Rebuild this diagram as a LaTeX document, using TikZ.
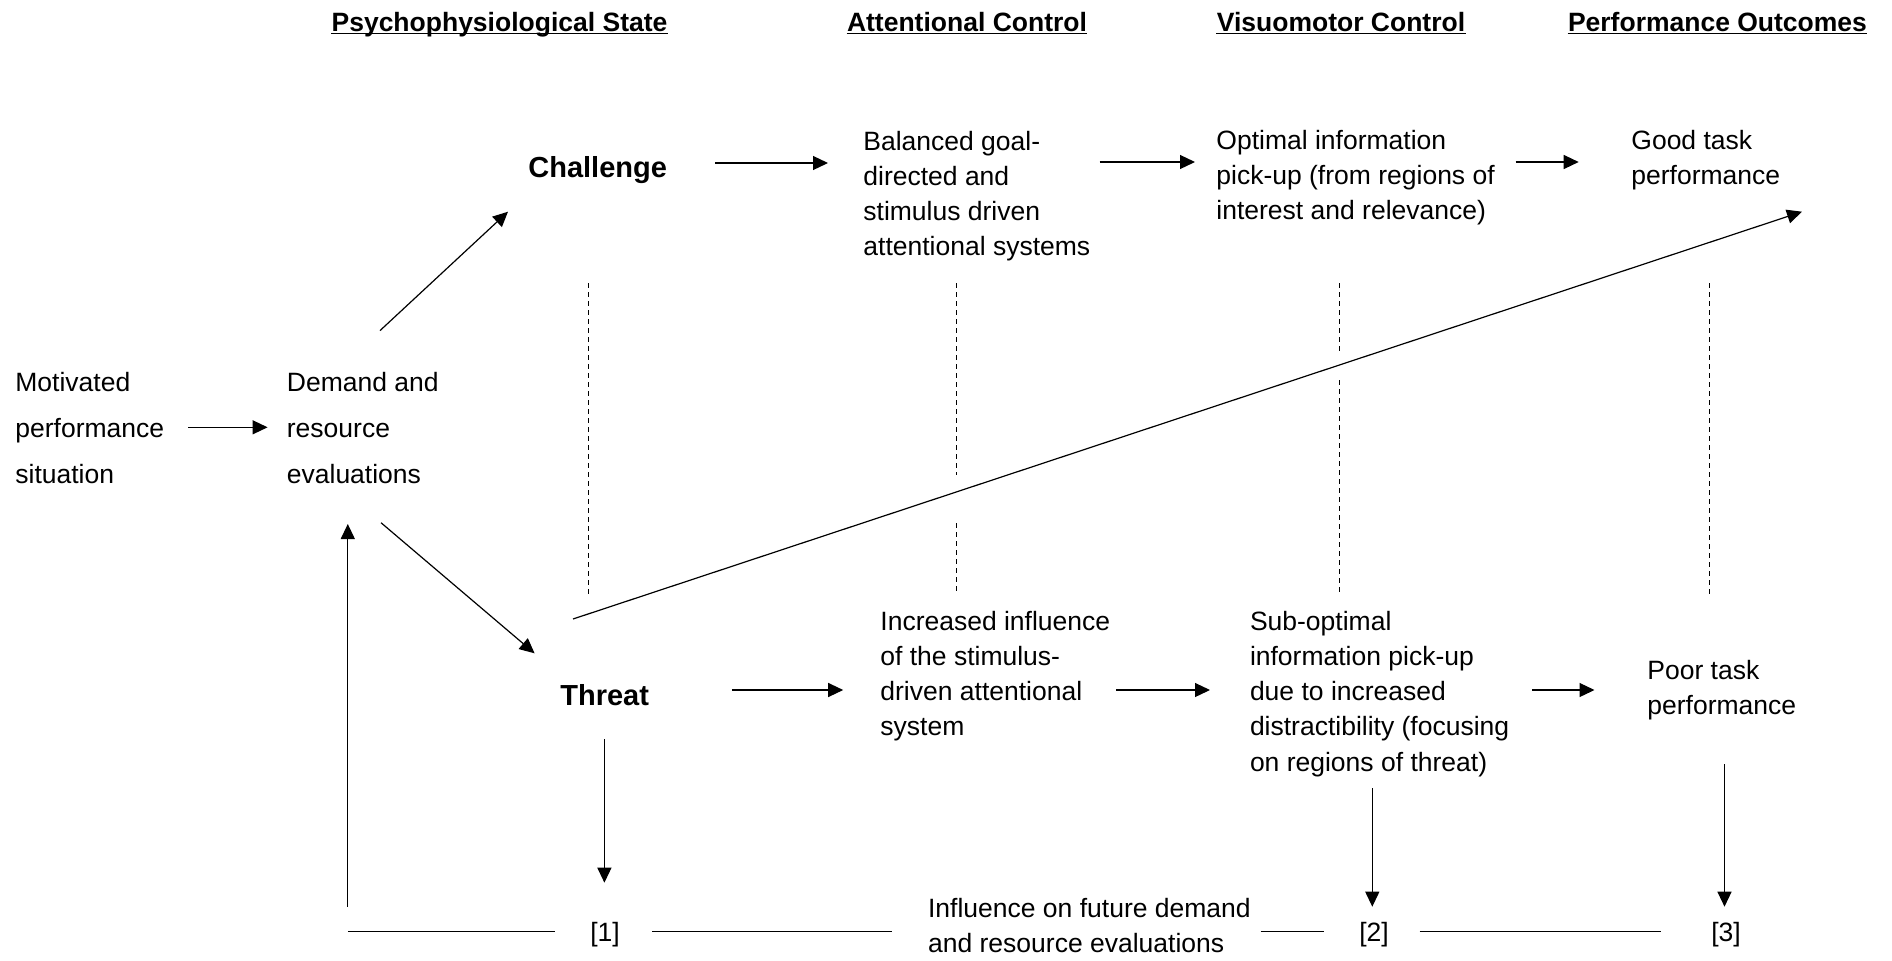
\documentclass[tikz,border=0pt]{standalone}
\usepackage{fontspec}
\setmainfont{Liberation Sans}
\usetikzlibrary{arrows.meta,calc}
\begin{document}
\begin{tikzpicture}[x=0.5pt,y=-0.5pt,
  % multi-line text nodes are placed by the baseline of their last line
  txt/.style={inner sep=0pt, anchor=base west, align=left, font=\fontsize{13.25}{17.65}\selectfont},
  wide/.style={txt, font=\fontsize{13.25}{23}\selectfont},
  state/.style={inner sep=0pt, anchor=base west, font=\fontsize{14.5}{17}\selectfont\bfseries},
  head/.style={inner sep=0pt, anchor=base, font=\fontsize{13.25}{16}\selectfont\bfseries},
  tag/.style={inner sep=0pt, anchor=base, font=\fontsize{13.25}{16}\selectfont},
  link/.style={line width=0.6pt, -{Triangle[length=7.5pt,width=7pt]}},
  plain/.style={line width=0.6pt},
  guide/.style={line width=0.5pt, dash pattern=on 2.5pt off 2pt},
  uline/.style={line width=0.8pt}]
\useasboundingbox (0,0) rectangle (1892,960);

% column headings
\node[head] (h1) at (499.5,31) {Psychophysiological State};
\node[head] (h2) at (967,31) {Attentional Control};
\node[head] (h3) at (1341,31) {Visuomotor Control};
\node[head] (h4) at (1717.5,31) {Performance Outcomes};
\foreach \h in {h1,h2,h3,h4}
  \draw[uline] ($(\h.base west)+(0,2.5)$) -- ($(\h.base east)+(0,2.5)$);

% text blocks
\node[wide] (mot) at (15,483) {Motivated\\performance\\situation};
\node[wide] (dem) at (286.5,483) {Demand and\\resource\\evaluations};
\node[state] (ch) at (528,177) {Challenge};
\node[state] (th) at (560,705) {Threat};
\node[txt] (bal) at (863,255.9) {Balanced goal-\\directed and\\stimulus driven\\attentional systems};
\node[txt] (opt) at (1216,219.6) {Optimal information\\pick-up (from regions of\\interest and relevance)};
\node[txt] (good) at (1631,184.3) {Good task\\performance};
\node[txt] (inc) at (880,735.9) {Increased influence\\of the stimulus-\\driven attentional\\system};
\node[txt] (sub) at (1249.6,771.2) {Sub-optimal\\information pick-up\\due to increased\\distractibility (focusing\\on regions of threat)};
\node[txt] (poor) at (1647,714.3) {Poor task\\performance};
\node[txt] (infl) at (927.7,952.3) {Influence on future demand\\and resource evaluations};
\node[tag] (b1) at (605,941) {[1]};
\node[tag] (b2) at (1374,941) {[2]};
\node[tag] (b3) at (1726,941) {[3]};

% connector end points
\coordinate (mot-o) at (188,427.3);   \coordinate (dem-i) at (267.6,427.3);
\coordinate (dem-u) at (380,330.6);   \coordinate (ch-i) at (508,211.7);
\coordinate (dem-d) at (381,522.7);   \coordinate (th-i) at (534.6,653.3);
\coordinate (ch-o) at (715,163);      \coordinate (bal-i) at (828,163);
\coordinate (bal-o) at (1099.7,162);  \coordinate (opt-i) at (1195,162);
\coordinate (opt-o) at (1515.6,162);  \coordinate (good-i) at (1578.7,162);
\coordinate (th-u) at (573,619);      \coordinate (good-d) at (1802,211.7);
\coordinate (th-o) at (731.8,690);    \coordinate (inc-i) at (843.2,690);
\coordinate (inc-o) at (1116,690);    \coordinate (sub-i) at (1210,690);
\coordinate (sub-o) at (1532,690);    \coordinate (poor-i) at (1594.5,690);
\coordinate (th-d) at (604.4,739.3);  \coordinate (b1-t) at (604.4,882.7);
\coordinate (sub-d) at (1372.3,788);  \coordinate (b2-t) at (1372.3,906.7);
\coordinate (poor-d) at (1724.5,764); \coordinate (b3-t) at (1724.5,906.7);
\coordinate (fb-b) at (347.8,906.7);  \coordinate (dem-b) at (347.8,524);
\coordinate (fb-l) at (347.8,931.7);

% forward arrows
\draw[link] (mot-o) -- (dem-i);
\draw[link] (dem-u) -- (ch-i);
\draw[link] (dem-d) -- (th-i);
\draw[link] (ch-o) -- (bal-i);
\draw[link] (bal-o) -- (opt-i);
\draw[link] (opt-o) -- (good-i);
\draw[link] (th-u) -- (good-d);
\draw[link] (th-o) -- (inc-i);
\draw[link] (inc-o) -- (sub-i);
\draw[link] (sub-o) -- (poor-i);
\draw[link] (th-d) -- (b1-t);
\draw[link] (sub-d) -- (b2-t);
\draw[link] (poor-d) -- (b3-t);

% feedback loop
\draw[plain] (fb-l) -- (555.4,931.7);
\draw[plain] (652,931.7) -- (892,931.7);
\draw[plain] (1260.6,931.7) -- (1323.7,931.7);
\draw[plain] (1419.7,931.7) -- (1660.7,931.7);
\draw[link] (fb-b) -- (dem-b);

% dashed column guides
\draw[guide] (588.5,283) -- (588.5,594);
\draw[guide] (956,283) -- (956,475);
\draw[guide] (956,523) -- (956,594);
\draw[guide] (1339.5,283) -- (1339.5,353);
\draw[guide] (1339.5,380) -- (1339.5,594);
\draw[guide] (1709.3,283) -- (1709.3,594);
\end{tikzpicture}
\end{document}
